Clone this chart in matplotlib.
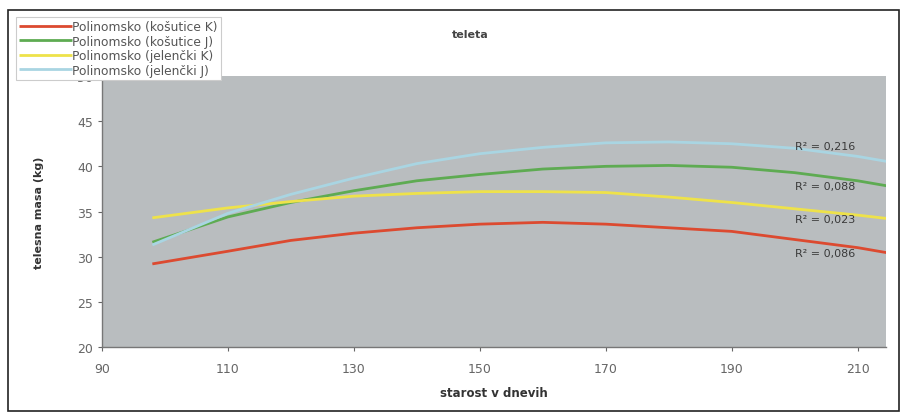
import matplotlib
matplotlib.use("Agg")
import matplotlib.pyplot as plt
from matplotlib.patches import Rectangle

plt.rcParams.update({
    "font.family": "DejaVu Sans",
    "font.size": 8,
})

days = [98, 110, 120, 130, 140, 150, 160, 170, 180, 190, 200, 210, 215]

kosutice_k = [29.2, 30.6, 31.8, 32.6, 33.2, 33.6, 33.8, 33.6, 33.2, 32.8, 31.9, 31.0, 30.4]
kosutice_j = [31.6, 34.4, 36.0, 37.3, 38.4, 39.1, 39.7, 40.0, 40.1, 39.9, 39.3, 38.4, 37.8]
jelencki_k = [34.3, 35.4, 36.1, 36.7, 37.0, 37.2, 37.2, 37.1, 36.6, 36.0, 35.3, 34.6, 34.2]
jelencki_j = [31.3, 34.8, 36.9, 38.7, 40.3, 41.4, 42.1, 42.6, 42.7, 42.5, 42.0, 41.1, 40.5]

labels = ["Polinomsko (košutice K)", "Polinomsko (košutice J)",
          "Polinomsko (jelenčki K)", "Polinomsko (jelenčki J)"]
colors = ["#dc4a30", "#5eab52", "#eee24a", "#a9d5e2"]
r2_text = ["R² = 0,086", "R² = 0,088", "R² = 0,023", "R² = 0,216"]
r2_y = [30.4, 37.8, 34.2, 42.3]

xticks = [90, 110, 130, 150, 170, 190, 210]
yticks = [20, 25, 30, 35, 40, 45, 50]

fig = plt.figure(figsize=(9, 4.14), dpi=100)
ax = fig.add_axes([0.1133, 0.1594, 0.8711, 0.6546])
ax.set_facecolor("#b9bdbf")

series = [kosutice_k, kosutice_j, jelencki_k, jelencki_j]
for y, lab, c in zip(series, labels, colors):
    ax.plot(days, y, color=c, lw=2.0, label=lab, solid_capstyle="butt")

for t, yy in zip(r2_text, r2_y):
    ax.text(200.0, yy, t, fontsize=8, color="#3a3a3a", va="center", ha="left")

ax.set_xlim(90, 214.5)
ax.set_ylim(20, 50)
ax.set_xticks(xticks)
ax.set_yticks(yticks)
ax.tick_params(colors="#666666", labelsize=9, length=3, width=0.8)
ax.tick_params(axis="x", pad=8)
for s in ["top", "right"]:
    ax.spines[s].set_visible(False)
for s in ["left", "bottom"]:
    ax.spines[s].set_color("#777777")
    ax.spines[s].set_linewidth(1.0)

ax.set_xlabel("starost v dnevih", fontsize=8.5, fontweight="bold", color="#333333",
              labelpad=8)
ax.set_ylabel("telesna masa (kg)", fontsize=8, fontweight="bold", color="#333333",
              labelpad=24)

fig.text(0.523, 0.915, "teleta", fontsize=8, fontweight="bold", color="#444444",
         ha="center", va="center")

h, l = ax.get_legend_handles_labels()
leg = fig.legend(h, l, loc="upper left", bbox_to_anchor=(0.011, 0.971),
                 fontsize=8.8, handlelength=4.3, handletextpad=0.05,
                 labelspacing=0.12, borderpad=0.25, fancybox=False,
                 framealpha=1, edgecolor="#cccccc")
leg.get_frame().set_linewidth(0.8)
for t in leg.get_texts():
    t.set_color("#555555")

# outer chart border
fig.patches.append(Rectangle((0.009, 0.005), 0.99, 0.968, transform=fig.transFigure,
                             fill=False, edgecolor="#222222", lw=1.2))

fig.savefig("out.png", dpi=100)
